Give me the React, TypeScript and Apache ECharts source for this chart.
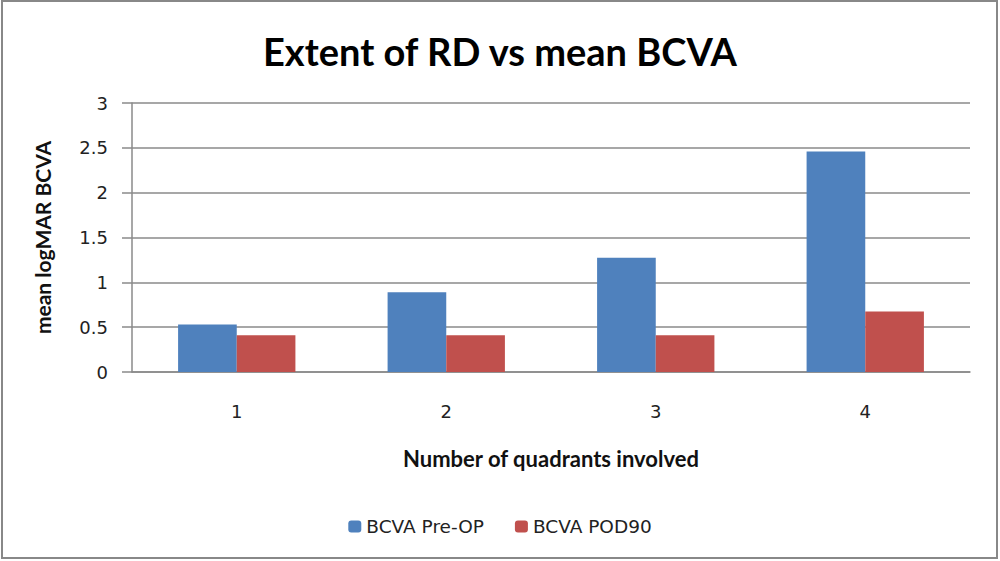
import React, { useEffect, useRef } from "react";
import * as echarts from "echarts";

const categories = ["1", "2", "3", "4"];
const preOp = [0.53, 0.89, 1.275, 2.46];
const pod90 = [0.41, 0.41, 0.41, 0.675];
const seriesNames = ["BCVA Pre-OP", "BCVA POD90"];

export default function App() {
  const ref = useRef<HTMLDivElement>(null);
  useEffect(() => {
    if (!ref.current) return;
    const chart = echarts.init(ref.current, undefined, { renderer: "svg" });
    const gray = "#8a8a8a";
    chart.setOption({
      animation: false,
      backgroundColor: "#ffffff",
      title: {
        text: "Extent of RD vs mean BCVA",
        left: "center",
        top: 27,
        textStyle: { fontFamily: "Lato", fontWeight: "bold", fontSize: 38, color: "#000" },
      },
      legend: {
        data: seriesNames,
        left: "center",
        top: 512,
        itemWidth: 13,
        itemHeight: 12,
        itemGap: 31,
        textStyle: { fontFamily: "DejaVu Sans", fontSize: 18.5, color: "#222" },
      },
      grid: { left: 132, right: 30, top: 103, bottom: 189, containLabel: false },
      xAxis: {
        type: "category",
        data: categories,
        name: "Number of quadrants involved",
        nameLocation: "middle",
        nameGap: 75,
        nameTextStyle: { fontFamily: "Lato", fontWeight: "bold", fontSize: 22, color: "#111" },
        axisLine: { lineStyle: { color: gray, width: 1.5 } },
        axisTick: { length: 9, lineStyle: { color: gray, width: 1.5 } },
        axisLabel: { margin: 30, fontFamily: "DejaVu Sans", fontSize: 18, color: "#222" },
      },
      yAxis: {
        type: "value",
        min: 0,
        max: 3,
        interval: 0.5,
        name: "mean logMAR BCVA",
        nameLocation: "middle",
        nameGap: 79,
        nameTextStyle: { fontFamily: "Lato", fontWeight: "bold", fontSize: 21, color: "#111" },
        axisLine: { show: true, lineStyle: { color: gray, width: 1.5 } },
        axisTick: { show: true, length: 10, lineStyle: { color: gray, width: 1.5 } },
        axisLabel: { margin: 24, fontFamily: "DejaVu Sans", fontSize: 18, color: "#222" },
        splitLine: { lineStyle: { color: gray, width: 1.5 } },
      },
      series: [
        {
          name: seriesNames[0],
          type: "bar",
          data: preOp,
          barGap: "0%",
          barCategoryGap: "44%",
          itemStyle: { color: "#4F81BD" },
        },
        {
          name: seriesNames[1],
          type: "bar",
          data: pod90,
          barGap: "0%",
          barCategoryGap: "44%",
          itemStyle: { color: "#C0504D" },
        },
      ],
      graphic: [
        {
          type: "rect",
          shape: { x: 2, y: 1, width: 995, height: 557 },
          style: { fill: "none", stroke: "#888", lineWidth: 2 },
          silent: true,
        },
      ],
    });
    return () => chart.dispose();
  }, []);
  return (
    <div
      ref={ref}
      style={{ position: "fixed", left: 0, top: 0, width: 1000, height: 561 }}
    />
  );
}
